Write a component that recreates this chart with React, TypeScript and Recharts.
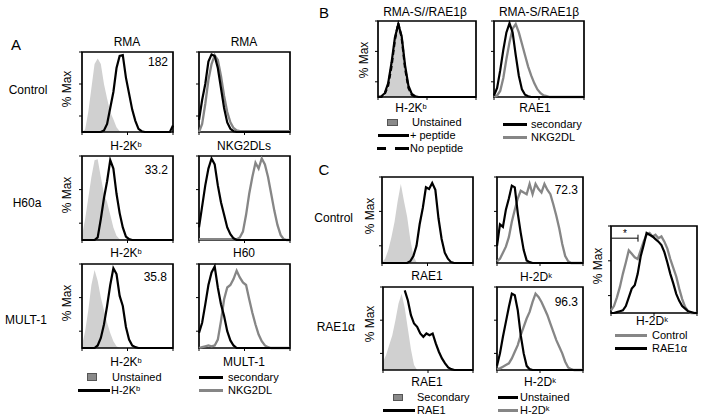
import React from 'react';
import { ComposedChart, Area, Line, XAxis, YAxis, ReferenceArea, ReferenceLine } from 'recharts';

// ---- data ----
const BINS = [0,1,2,3,4,5,6,7,8,9,10,11,12,13,14,15,16,17,18,19,20,21,22,23,24,25,26,27,28,29];
const X_TICKS = [0, 4.83, 9.67, 14.5, 19.33, 24.17, 29];
const Y_TICKS = [0, 20, 40, 60, 80, 100];

// Panel A
const A11_UNST = [0,3,25,55,85,92,85,60,42,25,16,6,1,0,0,0,0,0,0,0,0,0,0,0,0,0,0,0,0,0];
const A11_H2KB = [0,0,0,0,0,0,0,2,10,30,50,80,95,96,68,48,28,14,4,1,0,0,0,0,0,0,0,0,0,8];
const A12_SEC = [15,40,60,88,97,95,80,55,30,12,4,1,0,0,0,0,0,0,0,0,0,0,0,0,0,0,0,0,0,0];
const A12_NKG = [0,10,35,65,85,96,90,70,45,25,12,5,2,1,1,1,1,1,1,1,1,1,1,1,1,1,1,1,1,1];
const A21_UNST = [5,25,50,75,95,96,75,55,45,30,15,5,1,0,0,0,0,0,0,0,0,0,0,0,0,0,0,0,0,0];
const A21_H2KB = [0,0,0,0,0,3,25,50,70,95,85,55,32,15,4,1,0,0,0,0,0,0,0,0,0,0,0,0,0,0];
const A22_SEC = [15,40,65,85,97,90,65,45,30,15,7,2,0,0,0,0,0,0,0,0,0,0,0,0,0,0,0,0,0,0];
const A22_NKG = [1,1,1,1,1,1,1,1,1,1,1,1,1,3,10,30,55,75,92,85,97,90,75,55,35,18,6,1,0,0];
const A31_UNST = [3,20,45,75,93,80,60,45,30,18,8,2,0,0,0,0,0,0,0,0,0,0,0,0,0,0,0,0,0,0];
const A31_H2KB = [0,0,0,0,0,3,12,28,50,75,95,88,62,50,25,10,3,1,0,0,0,0,0,0,0,0,0,0,0,0];
const A32_SEC = [18,30,52,75,90,97,72,52,38,20,9,3,0,0,0,0,0,0,0,0,0,0,0,0,0,0,0,0,0,0];
const A32_NKG = [0,1,2,3,2,3,10,32,58,72,75,82,92,84,78,75,58,42,28,16,8,3,1,0,0,0,0,0,0,0];

// Panel B
const B1_UNST = [0,0,2,12,38,72,97,72,35,10,2,0,0,0,0,0,0,0,0,0,0,0,0,0,0,0,0,0,0,0];
const B1_PEP = [0,1,5,18,45,78,96,80,42,15,4,1,0,0,0,0,0,0,0,0,0,0,0,0,0,0,0,0,0,0];
const B1_NOPEP = [0,0,4,15,40,75,97,78,38,12,3,0,0,0,0,0,0,0,0,0,0,0,0,0,0,0,0,0,0,0];
const B2_SEC = [2,12,35,62,85,97,85,55,28,10,3,1,0,0,0,0,0,0,0,0,0,0,0,0,0,0,0,0,0,0];
const B2_NKG = [0,2,8,25,50,72,90,96,85,70,55,40,28,18,10,5,2,1,0,0,0,0,0,0,0,0,0,0,0,0];

// Panel C
const C11_SEC = [1,5,15,30,48,72,92,72,54,28,8,1,0,0,0,0,0,0,0,0,0,0,0,0,0,0,0,0,0,0];
const C11_RAE = [0,0,0,0,0,0,0,0,0,2,8,20,45,64,88,86,93,85,52,28,12,5,1,0,0,0,0,0,0,0];
const C12_UNST = [20,45,42,62,75,90,88,58,35,15,3,1,0,0,0,0,0,0,0,0,0,0,0,0,0,0,0,0,0,0];
const C12_H2DK = [2,5,12,19,30,48,62,75,84,82,80,92,80,92,86,82,92,85,80,68,55,40,22,8,2,0,0,0,0,0];
const C21_SEC = [10,18,30,42,60,80,92,75,50,25,6,0,0,0,0,0,0,0,0,0,0,0,0,0,0,0,0,0,0,0];
const C21_RAE = [null,null,null,null,null,null,null,96,84,66,56,52,44,40,44,42,44,32,22,14,8,3,1,0,0,0,0,0,0,0];
const C22_UNST = [5,20,40,58,76,92,90,72,42,20,5,1,0,0,0,0,0,0,0,0,0,0,0,0,0,0,0,0,0,0];
const C22_H2DK = [1,2,4,6,8,14,22,30,42,52,62,70,82,92,88,82,74,66,56,46,36,28,20,10,3,1,0,0,0,0];
const C3_CTRL = [3,8,18,30,45,58,72,68,64,62,72,82,90,92,88,90,86,88,82,74,62,52,42,28,16,7,2,0,0,0];
const C3_RAE = [0,0,1,2,3,8,18,28,32,45,65,78,92,90,88,85,82,78,70,58,45,34,22,14,8,5,2,1,0,0];

const GRAY_FILL = '#d0d0d0';
const GRAY_LINE = '#868686';
const LEG = 11;

type S = { values: (number | null)[]; kind: 'fill' | 'black' | 'gray' | 'dash' };

const NoLabel = () => <g />;

function Histo({ box, series, children }: { box: number[]; series: S[]; children?: React.ReactNode }) {
  const [left, top, w, h] = box;
  const data = BINS.map((x, i) => {
    const row: any = { x };
    series.forEach((s, j) => { row['s' + j] = s.values[i]; });
    return row;
  });
  return (
    <div style={{ position: 'absolute', left: left - 4, top: top - 2 }}>
      <ComposedChart width={w + 6} height={h + 6} data={data} margin={{ top: 2, right: 2, bottom: 0, left: 0 }}>
        <XAxis type="number" dataKey="x" domain={[0, 29]} ticks={X_TICKS} tick={NoLabel} tickSize={3} height={4} axisLine={false} tickLine={{ stroke: '#000', strokeWidth: 1 }} />
        <YAxis type="number" domain={[0, 100]} ticks={Y_TICKS} tick={NoLabel} tickSize={3} width={4} axisLine={false} tickLine={{ stroke: '#000', strokeWidth: 1 }} />
        {series.map((s, j) =>
          s.kind === 'fill' ? (
            <Area key={j} dataKey={'s' + j} type="linear" fill={GRAY_FILL} fillOpacity={1} stroke="none" isAnimationActive={false} dot={false} activeDot={false} />
          ) : (
            <Line key={j} dataKey={'s' + j} type="linear" stroke={s.kind === 'gray' ? GRAY_LINE : '#000'} strokeWidth={s.kind === 'gray' ? 2.3 : 2.2} strokeDasharray={s.kind === 'dash' ? '5 3' : undefined} isAnimationActive={false} dot={false} activeDot={false} />
          )
        )}
        <ReferenceArea x1={0} x2={29} y1={0} y2={100} fill="none" fillOpacity={0} stroke="#000" strokeWidth={1.7} ifOverflow="visible" />
        {children}
      </ComposedChart>
    </div>
  );
}

const T = ({ x, y, a = 'm', s = 12, rot = false, children }: any) => (
  <div
    style={{
      position: 'absolute', left: x, top: y, fontSize: s, lineHeight: '10px', whiteSpace: 'nowrap',
      transform: `translate(${a === 'm' ? '-50%' : a === 'e' ? '-100%' : '0'},-50%)${rot ? ' rotate(-90deg)' : ''}`,
    }}
  >
    {children}
  </div>
);

const Sup = ({ children }: any) => <span style={{ fontSize: 7.5, verticalAlign: 'top', lineHeight: '8px' }}>{children}</span>;
const H2Kb = () => <>H-2K<Sup>b</Sup></>;
const H2Dk = () => <>H-2D<Sup>k</Sup></>;

const LineSw = ({ x1, x2, y, c = '#000' }: any) => (
  <div style={{ position: 'absolute', left: x1, top: y - 1.5, width: x2 - x1, height: 3, background: c }} />
);
const Square = ({ x, y, w = 10, h = 8 }: any) => (
  <div style={{ position: 'absolute', left: x, top: y, width: w, height: h, background: '#8a8a8a', border: '1px solid #555', boxSizing: 'border-box' }} />
);

export default function App() {
  return (
    <div style={{ position: 'absolute', left: 0, top: 0, width: 704, height: 420, background: '#fff', fontFamily: '"Liberation Sans", Arial, sans-serif', color: '#000', overflow: 'hidden' }}>
      {/* Panel A */}
      <T x={16} y={45} s={15}>A</T>
      <T x={28} y={90}>Control</T>
      <T x={27} y={203}>H60a</T>
      <T x={26} y={320}>MULT-1</T>
      <T x={67} y={89} rot>% Max</T>
      <T x={67} y={195} rot>% Max</T>
      <T x={67} y={303} rot>% Max</T>
      <T x={127} y={42}>RMA</T>
      <T x={244} y={42}>RMA</T>
      <Histo box={[82, 52, 91, 80]} series={[{ values: A11_UNST, kind: 'fill' }, { values: A11_H2KB, kind: 'black' }]} />
      <Histo box={[199, 52, 91, 80]} series={[{ values: A12_NKG, kind: 'gray' }, { values: A12_SEC, kind: 'black' }]} />
      <T x={168} y={62} a="e">182</T>
      <T x={126} y={146}><H2Kb /></T>
      <T x={244} y={146}>NKG2DLs</T>
      <Histo box={[82, 156, 91, 84]} series={[{ values: A21_UNST, kind: 'fill' }, { values: A21_H2KB, kind: 'black' }]} />
      <Histo box={[199, 156, 91, 84]} series={[{ values: A22_NKG, kind: 'gray' }, { values: A22_SEC, kind: 'black' }]} />
      <T x={168} y={170} a="e">33.2</T>
      <T x={126} y={253}><H2Kb /></T>
      <T x={244} y={253}>H60</T>
      <Histo box={[82, 264, 91, 84]} series={[{ values: A31_UNST, kind: 'fill' }, { values: A31_H2KB, kind: 'black' }]} />
      <Histo box={[199, 264, 91, 84]} series={[{ values: A32_NKG, kind: 'gray' }, { values: A32_SEC, kind: 'black' }]} />
      <T x={167} y={277} a="e">35.8</T>
      <T x={126} y={362}><H2Kb /></T>
      <T x={244} y={362}>MULT-1</T>
      <Square x={87} y={373} />
      <T x={112} y={377} a="s" s={LEG}>Unstained</T>
      <LineSw x1={78} x2={110} y={390} />
      <T x={111} y={390} a="s" s={LEG}><H2Kb /></T>
      <LineSw x1={199} x2={223} y={377} />
      <T x={228} y={377} a="s" s={LEG}>secondary</T>
      <LineSw x1={199} x2={223} y={390} c={GRAY_LINE} />
      <T x={228} y={390} a="s" s={LEG}>NKG2DL</T>

      {/* Panel B */}
      <T x={324} y={13} s={15}>B</T>
      <T x={425} y={12}>RMA-S//RAE1β</T>
      <T x={539} y={12}>RMA-S/RAE1β</T>
      <T x={364} y={60} rot>% Max</T>
      <Histo box={[378, 21, 98, 76]} series={[{ values: B1_UNST, kind: 'fill' }, { values: B1_PEP, kind: 'black' }, { values: B1_NOPEP, kind: 'dash' }]} />
      <Histo box={[494, 21, 90, 76]} series={[{ values: B2_NKG, kind: 'gray' }, { values: B2_SEC, kind: 'black' }]} />
      <T x={411} y={108}><H2Kb /></T>
      <T x={535} y={108}>RAE1</T>
      <Square x={387} y={119} w={11} h={7} />
      <T x={412} y={122} a="s" s={LEG}>Unstained</T>
      <LineSw x1={378} x2={409} y={135} />
      <T x={410} y={135} a="s" s={LEG}>+ peptide</T>
      <LineSw x1={377} x2={386} y={148} />
      <LineSw x1={395} x2={409} y={148} />
      <T x={410} y={148} a="s" s={LEG}>No peptide</T>
      <LineSw x1={503} x2={527} y={124} />
      <T x={531} y={124} a="s" s={LEG}>secondary</T>
      <LineSw x1={503} x2={527} y={137} c={GRAY_LINE} />
      <T x={531} y={137} a="s" s={LEG}>NKG2DL</T>

      {/* Panel C */}
      <T x={324} y={170} s={15}>C</T>
      <T x={353} y={218} a="e">Control</T>
      <T x={355} y={327} a="e">RAE1α</T>
      <T x={370} y={216} rot>% Max</T>
      <T x={370} y={324} rot>% Max</T>
      <Histo box={[382, 177, 91, 86]} series={[{ values: C11_SEC, kind: 'fill' }, { values: C11_RAE, kind: 'black' }]} />
      <Histo box={[497, 177, 86, 86]} series={[{ values: C12_H2DK, kind: 'gray' }, { values: C12_UNST, kind: 'black' }]} />
      <T x={578} y={190} a="e">72.3</T>
      <T x={427} y={276}>RAE1</T>
      <T x={536} y={277}><H2Dk /></T>
      <Histo box={[383, 287, 90, 83]} series={[{ values: C21_SEC, kind: 'fill' }, { values: C21_RAE, kind: 'black' }]} />
      <Histo box={[497, 287, 86, 83]} series={[{ values: C22_H2DK, kind: 'gray' }, { values: C22_UNST, kind: 'black' }]} />
      <T x={578} y={302} a="e">96.3</T>
      <T x={427} y={382}>RAE1</T>
      <T x={540} y={382}><H2Dk /></T>
      <Square x={393} y={394} w={10} h={7} />
      <T x={417} y={397} a="s" s={LEG}>Secondary</T>
      <LineSw x1={383} x2={415} y={410} />
      <T x={417} y={410} a="s" s={LEG}>RAE1</T>
      <LineSw x1={498} x2={518} y={397} />
      <T x={520} y={397} a="s" s={LEG}>Unstained</T>
      <LineSw x1={498} x2={518} y={410} c={GRAY_LINE} />
      <T x={520} y={410} a="s" s={LEG}><H2Dk /></T>

      <T x={598} y={266} rot>% Max</T>
      <Histo box={[611, 226, 86, 87]} series={[{ values: C3_CTRL, kind: 'gray' }, { values: C3_RAE, kind: 'black' }]}>
        <ReferenceLine segment={[{ x: 0.2, y: 86 }, { x: 9.1, y: 86 }]} stroke="#000" strokeWidth={1} ifOverflow="visible" />
        <ReferenceLine segment={[{ x: 9.1, y: 82 }, { x: 9.1, y: 90 }]} stroke="#000" strokeWidth={1} ifOverflow="visible" />
      </Histo>
      <T x={625} y={234} s={10}>*</T>
      <T x={652} y={321}><H2Dk /></T>
      <LineSw x1={615} x2={647} y={335} c={GRAY_LINE} />
      <T x={652} y={335} a="s" s={LEG}>Control</T>
      <LineSw x1={615} x2={647} y={348} />
      <T x={652} y={348} a="s" s={LEG}>RAE1α</T>
    </div>
  );
}
